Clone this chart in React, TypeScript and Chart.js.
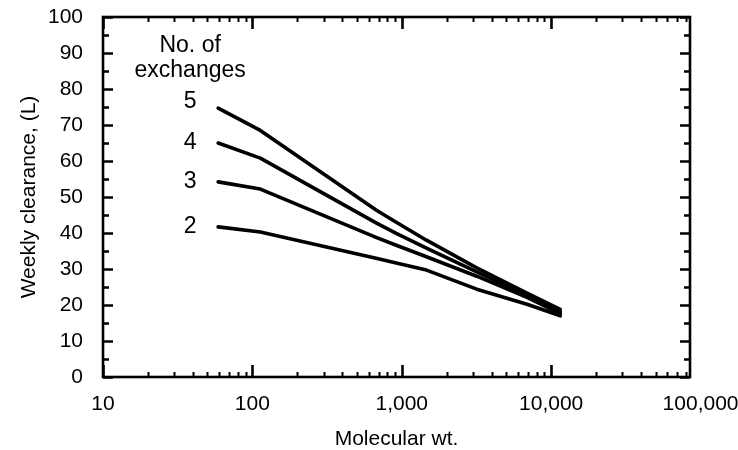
import React, { useEffect, useRef } from "react";
import { Chart, registerables } from "chart.js";

Chart.register(...registerables);

// Molecular weight sample points (x) shared by all curves
const molecularWeights = [59, 113, 673, 918, 1463, 3176, 6890, 11500];

// Weekly clearance (L) for each number of exchanges
const exchanges5 = [74.7, 68.5, 46.4, 43.0, 38.0, 30.3, 23.3, 18.8];
const exchanges4 = [65.0, 60.8, 42.8, 39.9, 35.8, 29.2, 22.7, 18.2];
const exchanges3 = [54.2, 52.2, 38.8, 36.6, 33.4, 28.0, 22.1, 17.6];
const exchanges2 = [41.7, 40.3, 33.0, 31.7, 29.7, 24.4, 20.2, 17.0];

const seriesLabels = ["5", "4", "3", "2"];
const seriesValues = [exchanges5, exchanges4, exchanges3, exchanges2];

const xTickValues = [10, 100, 1000, 10000, 100000];
const xTickLabels = ["10", "100", "1,000", "10,000", "100,000"];
const xMin = 10;
const xMax = 85000;
const yMin = 0;
const yMax = 100;

const FONT = "'Liberation Sans', Arial, Helvetica, sans-serif";

const framePlugin = {
  id: "frameTicks",
  afterDraw(chart: any) {
    const { ctx, chartArea } = chart;
    const xs = chart.scales.x;
    const ys = chart.scales.y;
    const { left, right, top, bottom } = chartArea;
    ctx.save();
    ctx.strokeStyle = "#000";
    ctx.lineWidth = 2.6;
    ctx.strokeRect(left, top, right - left, bottom - top);
    // x ticks (inward, bottom & top)
    for (let d = xMin; d < xMax * 10; d *= 10) {
      for (let k = 1; k <= 9; k++) {
        const v = k * d;
        if (v < xMin || v > xMax) continue;
        const px = Math.round(xs.getPixelForValue(v)) + 0.5;
        const len = k === 1 ? 12 : 5;
        ctx.lineWidth = k === 1 ? 2.6 : 2;
        ctx.beginPath();
        ctx.moveTo(px, bottom);
        ctx.lineTo(px, bottom - len);
        ctx.moveTo(px, top);
        ctx.lineTo(px, top + len);
        ctx.stroke();
      }
    }
    // y ticks (inward, left & right)
    for (let v = yMin; v <= yMax; v += 5) {
      const py = Math.round(ys.getPixelForValue(v)) + 0.5;
      const len = v % 10 === 0 ? 10 : 6;
      ctx.lineWidth = 2.4;
      ctx.beginPath();
      ctx.moveTo(left, py);
      ctx.lineTo(left + len, py);
      ctx.moveTo(right, py);
      ctx.lineTo(right - len, py);
      ctx.stroke();
    }
    // series annotations
    ctx.fillStyle = "#000";
    ctx.font = `23px ${FONT}`;
    ctx.textAlign = "center";
    ctx.textBaseline = "middle";
    const x0 = xs.getPixelForValue(molecularWeights[0]);
    let y5 = 0;
    seriesValues.forEach((vals, i) => {
      const py = ys.getPixelForValue(vals[0]);
      const ly = i === 0 ? py - 6 : py;
      if (i === 0) y5 = ly;
      ctx.fillText(seriesLabels[i], x0 - 28, ly);
    });
    ctx.fillText("No. of", x0 - 28, y5 - 56);
    ctx.fillText("exchanges", x0 - 28, y5 - 31);
    ctx.restore();
  },
};

export default function App() {
  const ref = useRef<HTMLCanvasElement | null>(null);
  useEffect(() => {
    if (!ref.current) return;
    const chart = new Chart(ref.current, {
      type: "line",
      data: {
        datasets: seriesValues.map((vals, i) => ({
          label: seriesLabels[i],
          data: molecularWeights.map((x, j) => ({ x, y: vals[j] })),
          borderColor: "#000",
          backgroundColor: "#000",
          borderWidth: 3.6,
          pointRadius: 0,
          tension: 0,
          borderJoinStyle: "round" as const,
          borderCapStyle: "round" as const,
          fill: false,
        })),
      },
      options: {
        animation: false,
        responsive: false,
        maintainAspectRatio: false,
        layout: { padding: { left: 0, top: 17, right: 48, bottom: 0 } },
        plugins: { legend: { display: false }, tooltip: { enabled: false } },
        scales: {
          x: {
            type: "logarithmic",
            min: xMin,
            max: xMax,
            grid: { display: false },
            border: { display: false },
            afterBuildTicks: (scale: any) => {
              scale.ticks = xTickValues.map((v) => ({ value: v }));
            },
            afterFit: (scale: any) => {
              scale.height = 73;
              scale.paddingLeft = 0;
              scale.paddingRight = 0;
            },
            ticks: {
              autoSkip: false,
              maxRotation: 0,
              padding: 7,
              color: "#000",
              font: { family: FONT, size: 21 },
              callback: (_v: any, i: number) => xTickLabels[i],
            },
            title: {
              display: true,
              text: "Molecular wt.",
              color: "#000",
              font: { family: FONT, size: 21 },
              padding: { top: 0, bottom: -2 },
            },
          },
          y: {
            min: yMin,
            max: yMax,
            grid: { display: false },
            border: { display: false },
            afterFit: (scale: any) => {
              scale.width = 103;
              scale.paddingTop = 0;
              scale.paddingBottom = 0;
            },
            ticks: {
              stepSize: 10,
              padding: 12,
              color: "#000",
              font: { family: FONT, size: 21 },
            },
            title: {
              display: true,
              text: "Weekly clearance, (L)",
              color: "#000",
              font: { family: FONT, size: 21 },
              padding: { top: 17, bottom: 0 },
            },
          },
        },
      },
      plugins: [framePlugin],
    });
    return () => chart.destroy();
  }, []);
  return (
    <div style={{ position: "absolute", left: 0, top: 0, width: 738, height: 450, background: "#fff" }}>
      <canvas ref={ref} width={738} height={450} />
    </div>
  );
}
